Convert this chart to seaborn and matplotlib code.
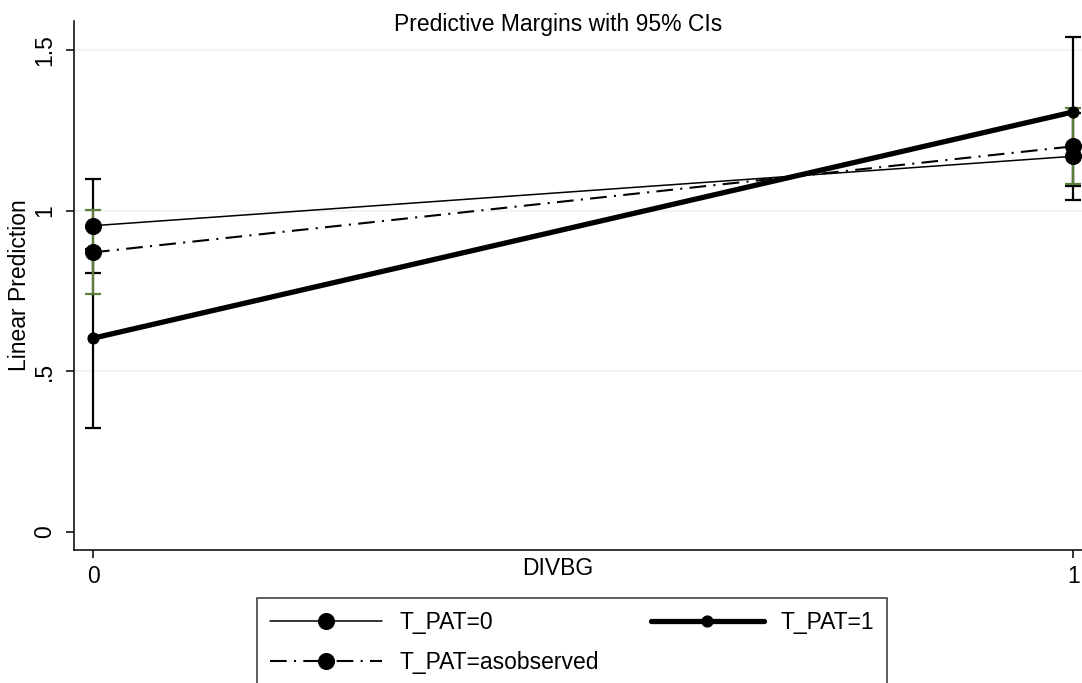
import pandas as pd
import matplotlib.pyplot as plt
import seaborn as sns

# data
divbg = [0, 1]
groups = ["T_PAT=0", "T_PAT=1", "T_PAT=asobserved"]
margin_pat0 = [0.953, 1.169]
lo_pat0 = [0.806, 1.034]
hi_pat0 = [1.099, 1.304]
margin_pat1 = [0.603, 1.307]
lo_pat1 = [0.325, 1.075]
hi_pat1 = [0.881, 1.539]
margin_asobs = [0.870, 1.200]
lo_asobs = [0.740, 1.084]
hi_asobs = [1.001, 1.320]
yticks = [0, 0.5, 1, 1.5]
ytick_labels = ["0", ".5", "1", "1.5"]
xticks = [0, 1]

df = pd.DataFrame({
    "DIVBG": divbg * 3,
    "margin": margin_pat0 + margin_pat1 + margin_asobs,
    "lo": lo_pat0 + lo_pat1 + lo_asobs,
    "hi": hi_pat0 + hi_pat1 + hi_asobs,
    "group": [g for g in groups for _ in divbg],
})

sns.set_style("ticks")
plt.rcParams["font.family"] = ["Liberation Sans", "DejaVu Sans"]
plt.rcParams["font.size"] = 16.5
plt.rcParams["text.color"] = "black"
plt.rcParams["axes.labelcolor"] = "black"
plt.rcParams["xtick.color"] = "black"
plt.rcParams["ytick.color"] = "black"

fig = plt.figure(figsize=(10.82, 6.83), dpi=100)
ax = fig.add_axes([0.0684, 0.1947, 0.9316, 0.7746])

# styles per group: linewidth, linestyle, markersize, CI colour
styles = {
    "T_PAT=0": dict(lw=1.1, ls="-", ms=11.5, ci="black"),
    "T_PAT=1": dict(lw=3.8, ls="-", ms=8, ci="black"),
    "T_PAT=asobserved": dict(lw=1.5, ls=(0, (8, 3.5, 1, 3.5)), ms=11.5, ci="#5b7f3a"),
}

for g in groups:
    d = df[df["group"] == g]
    st = styles[g]
    z = 2.5 if g == "T_PAT=asobserved" else 2
    ax.errorbar(d["DIVBG"], d["margin"],
                yerr=[d["margin"] - d["lo"], d["hi"] - d["margin"]],
                fmt="none", ecolor=st["ci"], elinewidth=1.6, capsize=5.6,
                capthick=1.6, zorder=z, label="_nolegend_")

for g in groups:
    d = df[df["group"] == g]
    st = styles[g]
    sns.lineplot(data=d, x="DIVBG", y="margin", ax=ax, color="black",
                 linewidth=st["lw"], marker="o", markersize=st["ms"],
                 markeredgecolor="black", markerfacecolor="black",
                 label=g, zorder=3, legend=False)
    ax.lines[-1].set_linestyle(st["ls"])

ax.set_xlim(-0.0194, 1.009)
ax.set_ylim(-0.056, 1.59)
ax.set_xticks(xticks)
ax.set_xticklabels([str(x) for x in xticks])
ax.set_yticks(yticks)
ax.set_yticklabels(ytick_labels)

ax.yaxis.grid(True, color="#eaf2f3", linewidth=1.1)
ax.yaxis.get_gridlines()[0].set_visible(False)
ax.set_axisbelow(True)

sns.despine(ax=ax)
for s in ["left", "bottom"]:
    ax.spines[s].set_color("black")
    ax.spines[s].set_linewidth(1.1)

ax.tick_params(axis="both", length=6, width=1.1, color="black", labelsize=16.5)
ax.tick_params(axis="y", labelrotation=90, pad=7)
ax.tick_params(axis="x", pad=5)
for lab in ax.get_yticklabels():
    lab.set_va("center")

ax.set_xlabel("DIVBG", va="center")
ax.xaxis.set_label_coords(0.480, -0.034)
ax.set_ylabel("Linear Prediction", va="center")
ax.yaxis.set_label_coords(-0.0536, 0.5)

fig.text(0.516, 1 - 24 / 683, "Predictive Margins with 95% CIs",
         ha="center", va="center", fontsize=16.5)

# legend laid out row-wise like the Stata key
handles, labels = ax.get_legend_handles_labels()
order = [labels.index("T_PAT=0"), labels.index("T_PAT=asobserved"), labels.index("T_PAT=1")]
leg = fig.legend([handles[i] for i in order], [labels[i] for i in order],
                 loc="upper center", bbox_to_anchor=(572 / 1082, 1 - 598 / 683),
                 ncol=2, frameon=True, fancybox=False, edgecolor="black",
                 handlelength=4.9, handletextpad=0.74, columnspacing=2.3,
                 labelspacing=0.74, borderpad=0.55, borderaxespad=0,
                 fontsize=16.5)
leg.get_frame().set_linewidth(1.1)

plt.savefig("out.png", dpi=100)
